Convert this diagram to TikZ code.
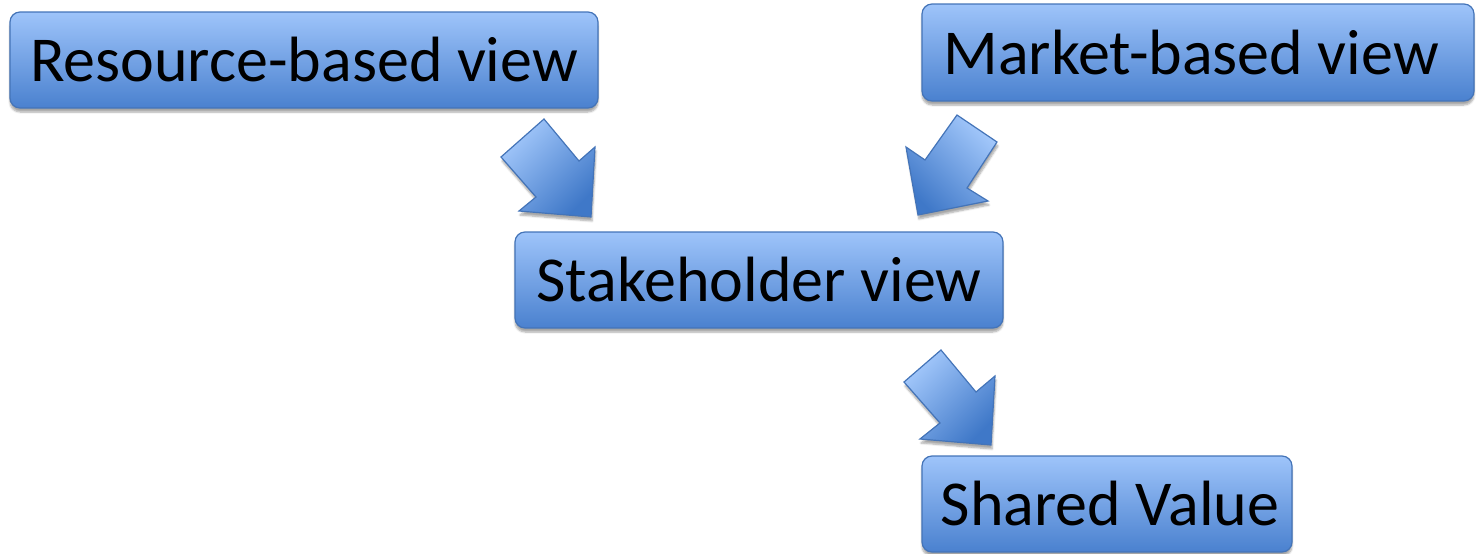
\documentclass[tikz,border=0pt]{standalone}
\usepackage{fontspec}
\setmainfont{Carlito}
\usetikzlibrary{shadows.blur}
\definecolor{boxtop}{HTML}{9EC4FA}
\definecolor{boxbot}{HTML}{4A81CF}
\definecolor{boxline}{HTML}{4474B8}
\definecolor{arrlight}{HTML}{A3C8FB}
\definecolor{arrdark}{HTML}{3F78C8}
\tikzset{
  viewbox/.style={rounded corners=10pt, draw=boxline, line width=1.2pt,
    top color=boxtop, bottom color=boxbot, inner sep=0pt,
    font=\fontsize{64}{70}\selectfont, text=black,
    blur shadow={shadow xshift=0pt, shadow yshift=-4pt, shadow blur steps=6, shadow opacity=35}},
  blockarrow/.style={draw=boxline, line width=1.2pt, line join=miter,
    left color=arrlight, right color=arrdark, shading angle=#1,
    blur shadow={shadow xshift=1pt, shadow yshift=-4pt, shadow blur steps=6, shadow opacity=35}}
}
\begin{document}
\begin{tikzpicture}[x=1pt, y=-1pt]
  \useasboundingbox (0,0) rectangle (1476,554);

  % the four views
  \node[viewbox, minimum width=588pt, minimum height=96pt] (rbv) at (304,60) {Resource-based view};
  \node[viewbox, minimum width=552pt, minimum height=97pt] (mbv) at (1198,52.5) {Market-based view\hspace*{14pt}};
  \node[viewbox, minimum width=488pt, minimum height=96pt] (shv) at (759,280) {Stakeholder view};
  \node[viewbox, minimum width=370pt, minimum height=96pt] (sv)  at (1107,504) {\hspace*{6pt}Shared Value};

  % block arrows between the views
  \path[blockarrow=45] (501,157) -- (544,119) -- (579,161) -- (595,147) -- (591,217)
    -- (519,211) -- (536,197) -- cycle;
  \path[blockarrow=-45] (957,115) -- (997,142) -- (967,188) -- (988,201) -- (918,215)
    -- (906,147) -- (925,160) -- cycle;
  \path[blockarrow=45] (904,382) -- (941,350) -- (976,392) -- (995,376) -- (991,445)
    -- (920,439) -- (940,423) -- cycle;
\end{tikzpicture}
\end{document}
